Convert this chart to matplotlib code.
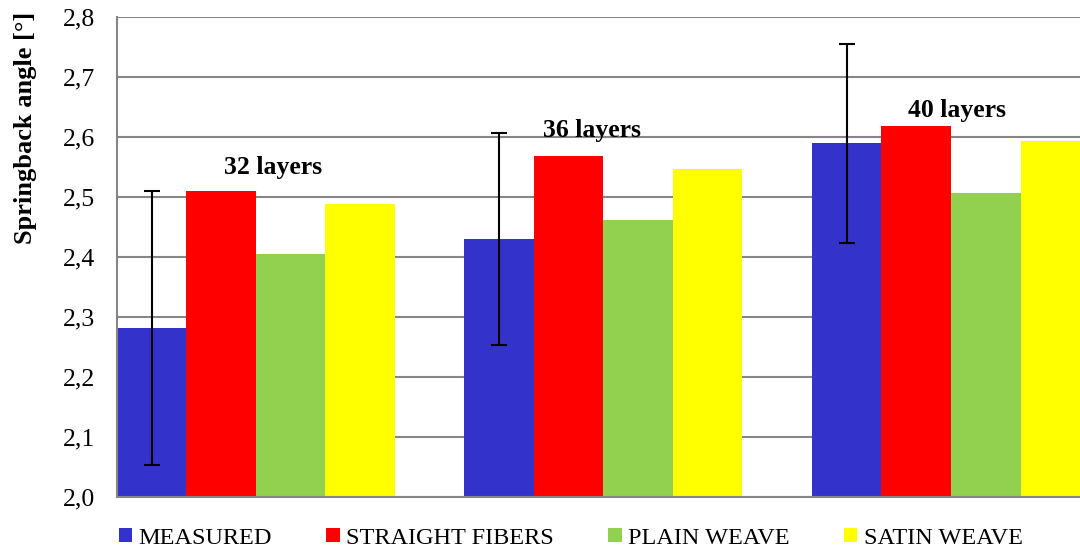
import numpy as np
import matplotlib.pyplot as plt
from matplotlib.patches import Patch

plt.rcParams['font.family'] = ['Liberation Serif', 'DejaVu Serif']

# springback per laminate thickness, measured vs. the three simulation models
groups = ['32 layers', '36 layers', '40 layers']
series = ['MEASURED', 'STRAIGHT FIBERS', 'PLAIN WEAVE', 'SATIN WEAVE']
measured = [2.281, 2.429, 2.589]
measured_err = [0.228, 0.177, 0.166]
straight = [2.510, 2.568, 2.618]
plain = [2.405, 2.461, 2.506]
satin = [2.488, 2.546, 2.593]
colors = ['#3333CC', '#FF0000', '#92D050', '#FFFF00']

# label anchors (offset inside group, height)
label_x = [2.24, 1.83, 2.09]
label_y = [2.549, 2.611, 2.644]

fig = plt.figure(figsize=(10.8, 5.52), dpi=100)
ax = fig.add_axes([0.1083, 0.1002, 0.8917, 0.8696])

values = [measured, straight, plain, satin]
base = np.arange(len(groups)) * 5
for j, vals in enumerate(values):
    ax.bar(base + j, np.array(vals) - 2.0, width=1.0, bottom=2.0, align='edge',
           color=colors[j], zorder=2)

ax.errorbar(base + 0.5, measured, yerr=measured_err, fmt='none', ecolor='black',
            elinewidth=1.5, capsize=5.5, capthick=1.5, zorder=3)

for g, txt in enumerate(groups):
    ax.text(base[g] + label_x[g], label_y[g], txt, ha='center', va='center',
            fontsize=18.5, fontweight='bold', zorder=4)

ax.set_ylim(2.0, 2.8)
ax.set_xlim(0, 13.856)
ticks = np.arange(2.0, 2.81, 0.1)
ax.set_yticks(ticks)
ax.set_yticklabels([f'{t:.1f}'.replace('.', ',') for t in ticks], fontsize=18.5)
ax.tick_params(axis='y', length=0, pad=16)
ax.set_xticks([])
ax.grid(axis='y', color='#868686', linewidth=1.5, zorder=0)
ax.set_axisbelow(True)

for s in ['top', 'right']:
    ax.spines[s].set_visible(False)
for s in ['left', 'bottom']:
    ax.spines[s].set_color('#868686')
    ax.spines[s].set_linewidth(1.5)

ax.set_ylabel('Springback angle [°]', fontsize=19, fontweight='bold')
ax.yaxis.set_label_coords(-0.083, 0.768)

handles = [Patch(facecolor=c, edgecolor='none') for c in colors]
fig.legend(handles, series, loc='center left', bbox_to_anchor=(0.11, 0.025),
           ncol=4, frameon=False, fontsize=17.5, handlelength=0.55,
           handleheight=0.55, handletextpad=0.25, columnspacing=2.25,
           borderaxespad=0, borderpad=0)

fig.savefig('out.png', dpi=100)
